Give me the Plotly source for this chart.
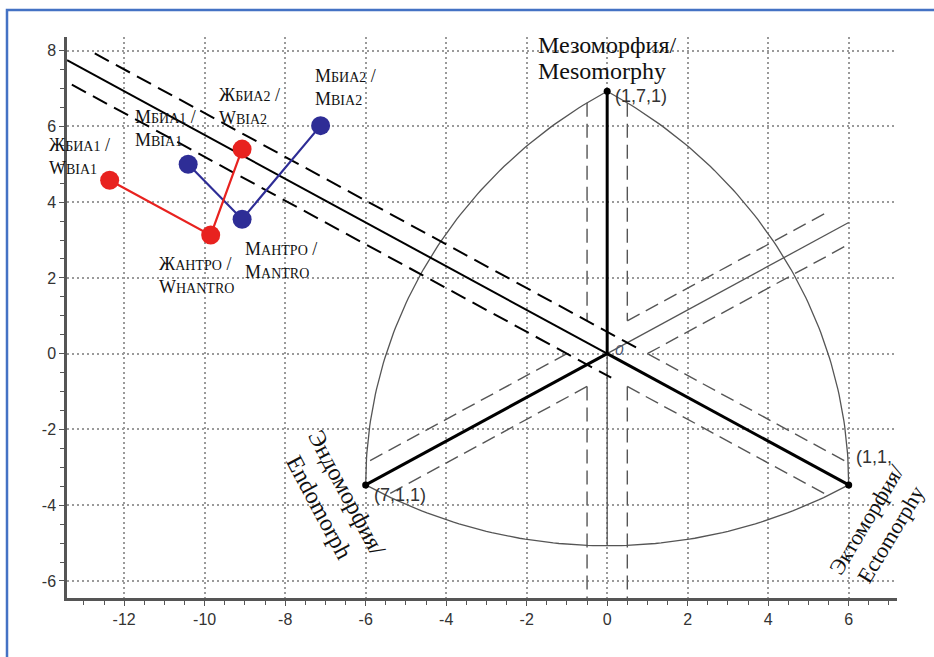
import numpy as np
import plotly.graph_objects as go

# ---- data: somatochart coordinates of each group ----
women_x = [-12.36, -9.85, -9.07]
women_y = [4.58, 3.13, 5.40]
men_x = [-10.41, -9.07, -7.12]
men_y = [5.00, 3.55, 6.02]

SC = "<span style='font-size:14px'>{}</span>"
women_labels = [
    "Ж" + SC.format("БИА1") + " /<br>W" + SC.format("BIA1"),
    "Ж" + SC.format("АНТРО") + " /<br>W" + SC.format("HANTRO"),
    "Ж" + SC.format("БИА2") + " /<br>W" + SC.format("BIA2"),
]
men_labels = [
    "М" + SC.format("БИА1") + " /<br>M" + SC.format("BIA1"),
    "М" + SC.format("АНТРО") + " /<br>M" + SC.format("ANTRO"),
    "М" + SC.format("БИА2") + " /<br>M" + SC.format("BIA2"),
]
# label placement relative to each point, in pixels
women_offsets = [(-63, 24), (-54, -40), (-25, 43)]
men_offsets = [(-55, 36), (1, -41), (-8, 38)]

x_ticks = [-12, -10, -8, -6, -4, -2, 0, 2, 4, 6]
y_ticks = [-6, -4, -2, 0, 2, 4, 6, 8]

X_RANGE = [-13.42, 7.2]
Y_RANGE = [-6.45, 8.36]

RED = "#e8221f"
BLUE = "#2e2d96"
GRAY = "#555555"

# ---- somatochart frame geometry ----
R = 4 * np.sqrt(3)                 # distance from origin to each pole
meso = (0.0, R)
endo = (-6.0, -R / 2)
ecto = (6.0, -R / 2)
k = np.tan(np.pi / 6)              # slope of the endo / ecto axes
c = 0.5 / np.cos(np.pi / 6)        # intercept of lines 0.5 away from an axis


def par_endo(x, s):
    return k * x + s * c


def par_ecto(x, s):
    return -k * x + s * c


def arc(center, p0, p1, n=90):
    a0 = np.arctan2(p0[1] - center[1], p0[0] - center[0])
    a1 = np.arctan2(p1[1] - center[1], p1[0] - center[0])
    t = np.linspace(a0, a1, n)
    return center[0] + 12 * np.cos(t), center[1] + 12 * np.sin(t)


def segs(pairs):
    xs, ys = [], []
    for (xa, ya), (xb, yb) in pairs:
        xs += [xa, xb, None]
        ys += [ya, yb, None]
    return xs, ys


fig = go.Figure()

# outline of the chart (three arcs of radius 12)
ax_, ay_ = [], []
for cen, a, b in [(endo, meso, ecto), (meso, ecto, endo), (ecto, endo, meso)]:
    x, y = arc(cen, a, b)
    ax_ += list(x) + [None]
    ay_ += list(y) + [None]
fig.add_trace(go.Scatter(x=ax_, y=ay_, mode="lines",
                         line=dict(color=GRAY, width=1.3), hoverinfo="skip"))

# dashed guide lines 0.5 units either side of the axes
y_top = -R / 2 + np.sqrt(144 - 6.5 ** 2)
y_bot = Y_RANGE[0]
guide = [
    ((-0.5, y_top), (-0.5, par_ecto(-0.5, 1))),
    ((0.5, y_top), (0.5, par_endo(0.5, 1))),
    ((-0.5, par_endo(-0.5, -1)), (-0.5, y_bot)),
    ((0.5, par_ecto(0.5, -1)), (0.5, y_bot)),
    ((0.5, par_endo(0.5, 1)), (5.5, par_endo(5.5, 1))),
    ((1.0, 0.0), (6.0, par_endo(6.0, -1))),
    ((1.0, 0.0), (6.0, par_ecto(6.0, 1))),
    ((0.5, par_ecto(0.5, -1)), (5.5, par_ecto(5.5, -1))),
    ((-1.0, 0.0), (-6.0, par_endo(-6.0, 1))),
    ((-0.5, par_endo(-0.5, -1)), (-5.5, par_endo(-5.5, -1))),
]
gx, gy = segs(guide)
fig.add_trace(go.Scatter(x=gx, y=gy, mode="lines",
                         line=dict(color=GRAY, width=1.4, dash="14px,7px"),
                         hoverinfo="skip"))

# thin continuations of the axes
tx, ty = segs([((0, 0), (6.0, par_endo(6.0, 0))), ((0, 0), (0, R - 12))])
fig.add_trace(go.Scatter(x=tx, y=ty, mode="lines",
                         line=dict(color=GRAY, width=1.3), hoverinfo="skip"))

# ecto axis extended to the left with its band
bx, by = segs([((X_RANGE[0], par_ecto(X_RANGE[0], 0)), (0, 0))])
fig.add_trace(go.Scatter(x=bx, y=by, mode="lines",
                         line=dict(color="black", width=2), hoverinfo="skip"))
dx, dy = segs([((-12.73, par_ecto(-12.73, 1)), (0.75, par_ecto(0.75, 1))),
               ((-13.3, par_ecto(-13.3, -1)), (0.1, par_ecto(0.1, -1)))])
fig.add_trace(go.Scatter(x=dx, y=dy, mode="lines",
                         line=dict(color="black", width=2, dash="16px,8px"),
                         hoverinfo="skip"))

# main axes from origin to each pole
mx, my = segs([(meso, (0, 0)), (endo, (0, 0)), ((0, 0), ecto)])
fig.add_trace(go.Scatter(x=mx, y=my, mode="lines",
                         line=dict(color="black", width=3), hoverinfo="skip"))
fig.add_trace(go.Scatter(x=[meso[0], endo[0], ecto[0]], y=[meso[1], endo[1], ecto[1]],
                         mode="markers", marker=dict(color="black", size=7),
                         hoverinfo="skip"))

# group trajectories
fig.add_trace(go.Scatter(x=men_x, y=men_y, mode="lines+markers",
                         line=dict(color=BLUE, width=2.2),
                         marker=dict(color=BLUE, size=19), name="M"))
fig.add_trace(go.Scatter(x=women_x, y=women_y, mode="lines+markers",
                         line=dict(color=RED, width=2.2),
                         marker=dict(color=RED, size=19), name="W"))

serif = "Liberation Serif, Times New Roman, serif"
sans = "Liberation Sans, Arial, sans-serif"

for xs, ys, labs, offs in [(women_x, women_y, women_labels, women_offsets),
                           (men_x, men_y, men_labels, men_offsets)]:
    for x, y, t, (sx, sy) in zip(xs, ys, labs, offs):
        fig.add_annotation(x=x, y=y, text=t, showarrow=False, xanchor="left",
                           yanchor="middle", align="left", xshift=sx, yshift=sy,
                           font=dict(family=serif, size=18, color="#111"))

# pole labels
fig.add_annotation(x=meso[0], y=meso[1], text="Мезоморфия/", showarrow=False,
                   xanchor="left", yanchor="middle", xshift=-71, yshift=46,
                   font=dict(family=serif, size=24, color="#111"))
fig.add_annotation(x=meso[0], y=meso[1], text="Mesomorphy", showarrow=False,
                   xanchor="left", yanchor="middle", xshift=-71, yshift=20,
                   font=dict(family=serif, size=24, color="#111"))
fig.add_annotation(x=meso[0], y=meso[1], text="(1,7,1)", showarrow=False,
                   xanchor="left", yanchor="middle", xshift=6, yshift=-5,
                   font=dict(family=sans, size=18, color="#333"))
fig.add_annotation(x=endo[0], y=endo[1], text="Эндоморфия/<br>Endomorph",
                   showarrow=False, xanchor="center", yanchor="middle",
                   textangle=62, xshift=-33, yshift=-15,
                   font=dict(family=serif, size=24, color="#111"))
fig.add_annotation(x=endo[0], y=endo[1], text="(7,1,1)", showarrow=False,
                   xanchor="left", yanchor="middle", xshift=6, yshift=-10,
                   font=dict(family=sans, size=18, color="#333"))
fig.add_annotation(x=ecto[0], y=ecto[1], text="Эктоморфия/<br>Ectomorphy",
                   showarrow=False, xanchor="center", yanchor="middle",
                   textangle=-59, xshift=30, yshift=-42,
                   font=dict(family=serif, size=22, color="#111"))
fig.add_annotation(x=ecto[0], y=ecto[1], text="(1,1,", showarrow=False,
                   xanchor="left", yanchor="middle", xshift=5, yshift=28,
                   font=dict(family=sans, size=18, color="#333"))
fig.add_annotation(x=0, y=0, text="<i>0</i>", showarrow=False,
                   xanchor="left", yanchor="middle", xshift=6, yshift=4,
                   font=dict(family=sans, size=15, color="#4a5570"))

# blue frame around the figure
fig.add_shape(type="rect", xref="paper", yref="paper",
              x0=-60 / 830, x1=1.2, y0=-0.3, y1=588 / 561,
              line=dict(color="#4472c4", width=2.5), layer="above")

axis_common = dict(
    showgrid=True, gridcolor="#9a9a9a", gridwidth=1.5, griddash="2px,3px",
    zeroline=False, showline=True, linecolor=GRAY, linewidth=2.5,
    ticks="outside", ticklen=5, tickcolor=GRAY, tickwidth=1.2,
    tickfont=dict(family=sans, size=16, color="#333"),
    minor=dict(dtick=0.5, tick0=0, ticks="outside", ticklen=4,
               tickcolor=GRAY, tickwidth=1.2, showgrid=False),
)
fig.update_xaxes(range=X_RANGE, tickvals=x_ticks,
                 ticktext=[str(v) for v in x_ticks], **axis_common)
fig.update_yaxes(range=Y_RANGE, tickvals=y_ticks,
                 ticktext=[str(v) for v in y_ticks], **axis_common)

fig.update_layout(width=934, height=657,
                  margin=dict(l=67, r=37, t=37, b=59),
                  plot_bgcolor="white", paper_bgcolor="white",
                  showlegend=False)

fig.write_html("out.html")
